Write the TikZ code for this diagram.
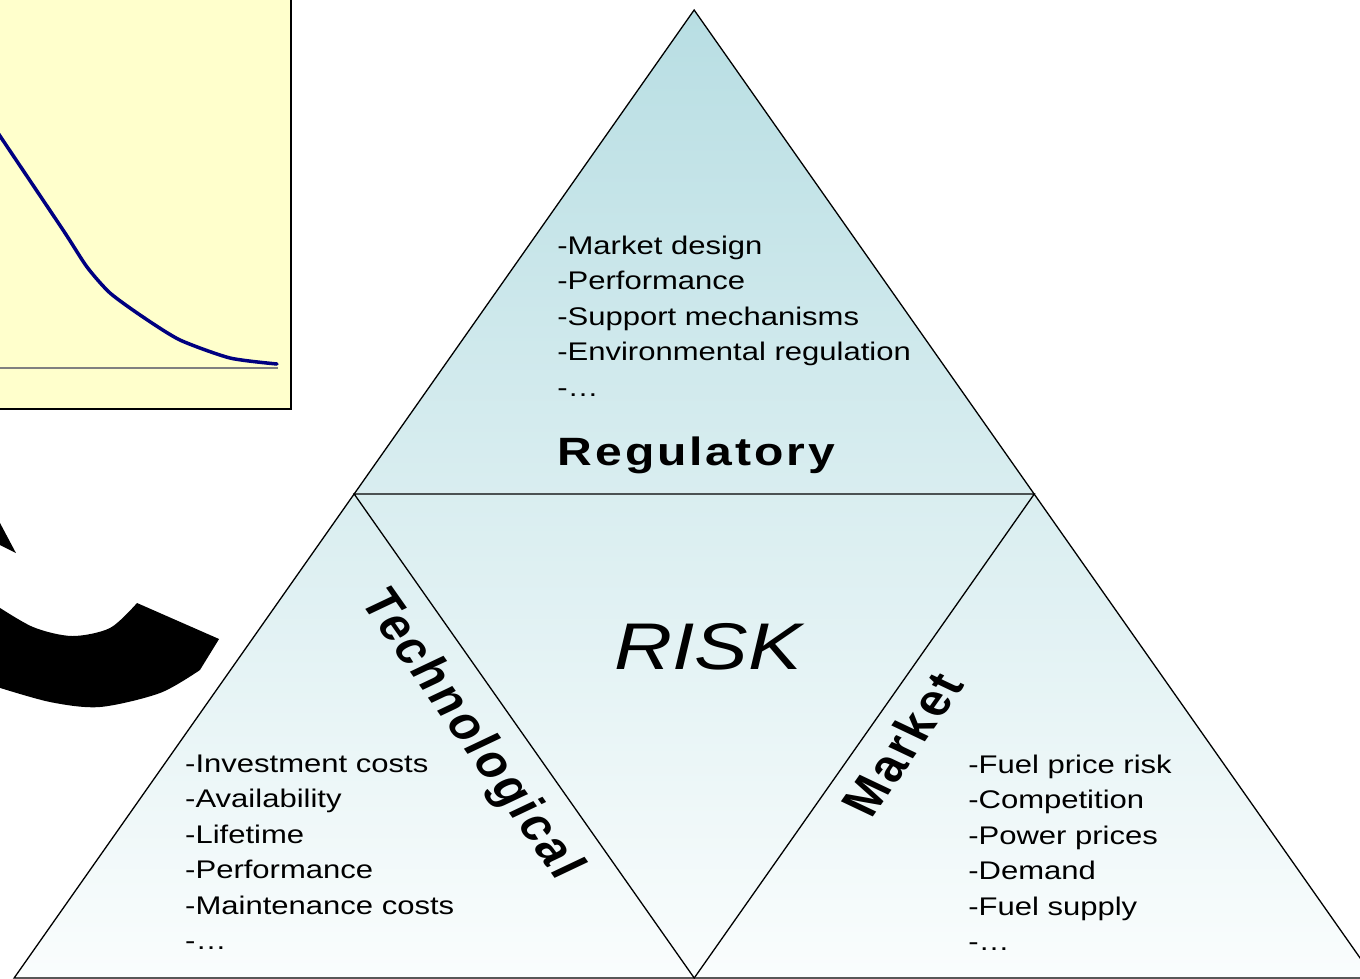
\documentclass[tikz,border=0pt]{standalone}
\usepackage{fontspec}
\setmainfont{Liberation Sans}
\newfontfamily\headfont[LetterSpace=6]{Liberation Sans}
\usetikzlibrary{calc}
\definecolor{risk-top}{RGB}{184,222,227}
\definecolor{risk-bottom}{RGB}{250,253,253}
\definecolor{chart-fill}{RGB}{255,255,204}
\definecolor{chart-curve}{RGB}{0,0,128}
\tikzset{
    item-list/.style = {anchor=base west, align=left, inner sep=0pt, font=\fontsize{25.5}{35.5}\selectfont},
    side-title/.style = {inner sep=0pt, font=\headfont\bfseries\fontsize{44}{52}\selectfont},
}

\begin{document}
\begin{tikzpicture}[x=1pt, y=-1pt, xscale=1.217, every node/.append style={transform shape}]
\useasboundingbox (0,0) rectangle (1117.5,978);
\clip (0,0) rectangle (1117.5,978);

% small chart in the corner
\draw[fill=chart-fill, line width=2pt] (-10,-10) rectangle (238.7,408.5);
\draw[gray, line width=2pt] (-5,368) -- (228.4,368);
\draw[chart-curve, line width=3.5pt, line join=round, line cap=round] plot[smooth, tension=0.4] coordinates {(-10,118) (0,136) (51.8,230) (71.5,267) (90.4,293) (117.5,317) (147.9,340) (189,358) (227.6,364)};

% big black C
\fill (-5,511.5) -- (13.1,553) -- (-5,542) -- cycle;
\fill plot[smooth] coordinates {(-5,604) (27.1,627) (59.2,636) (90.4,628) (112.6,603)}
    -- (180,639)
    -- plot[smooth] coordinates {(164.3,670) (131.5,693) (82.2,707) (41.1,702) (-5,686)} -- cycle;

% the risk triangle
\coordinate (apex) at (570.3,10);
\coordinate (base-l) at (11.6,978);
\coordinate (base-r) at (1129,978);
\coordinate (mid-l) at ($(apex)!0.5!(base-l)$);
\coordinate (mid-r) at ($(apex)!0.5!(base-r)$);
\coordinate (mid-b) at ($(base-l)!0.5!(base-r)$);
\shade[top color=risk-top, bottom color=risk-bottom] (base-l) -- (apex) -- (base-r) -- cycle;
\draw[line width=1.3pt] (base-l) -- (apex) -- (base-r) -- cycle;
\draw[line width=1.3pt] (mid-l) -- (mid-r) -- (mid-b) -- cycle;

% lists are placed by the baseline of their last line
\node[item-list] (reg-items) at (457.7,396) {-Market design\\-Performance\\-Support mechanisms\\-Environmental regulation\\-…};
\node[side-title, anchor=base, font=\headfont\bfseries\fontsize{39.5}{47}\selectfont] (reg-title) at (572.3,465) {Regulatory};
\node[anchor=base, inner sep=0pt, font=\itshape\fontsize{66}{79}\selectfont] (risk) at (581.8,669) {RISK};
\node[side-title, rotate=-60] (tech-title) at (386.2,735) {Technological};
\node[side-title, rotate=60] (market-title) at (741.2,744) {Market};
\node[item-list] (tech-items) at (152,949.5) {-Investment costs\\-Availability\\-Lifetime\\-Performance\\-Maintenance costs\\-…};
\node[item-list] (market-items) at (795.4,950.5) {-Fuel price risk\\-Competition\\-Power prices\\-Demand\\-Fuel supply\\-…};
\end{tikzpicture}
\end{document}
